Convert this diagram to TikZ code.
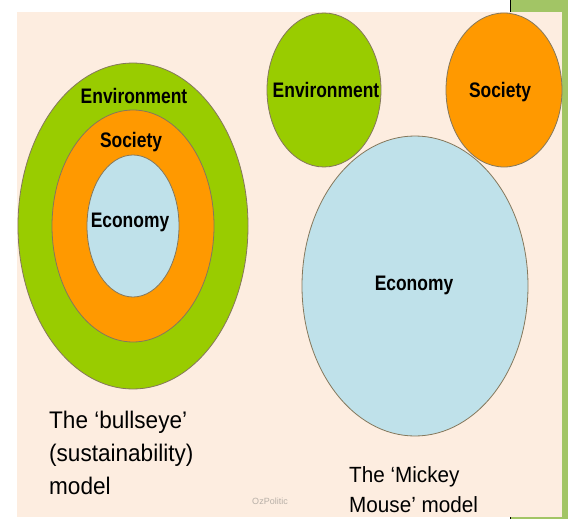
\documentclass[tikz,border=0pt]{standalone}
\usepackage{fontspec}
\setmainfont{Liberation Sans}
\newfontfamily\labelfont{Liberation Sans}[FakeStretch=0.83]
\newfontfamily\capfont{Liberation Sans}[FakeStretch=0.94]

\definecolor{peach}{HTML}{FDEDE0}
\definecolor{stripgreen}{HTML}{A2C565}
\definecolor{envgreen}{HTML}{99CC00}
\definecolor{socorange}{HTML}{FF9900}
\definecolor{ecoblue}{HTML}{BFE1EA}
\definecolor{ringline}{HTML}{85785C}
\definecolor{wmgray}{HTML}{B8B0A8}

\tikzset{
    ring/.style={draw=ringline, line width=0.8pt},
    lbl/.style={font=\labelfont\bfseries\fontsize{21}{23}\selectfont, inner sep=0pt, anchor=base},
    caption/.style={font=\capfont\fontsize{24}{33}\selectfont, align=left, inner sep=0pt, anchor=north west}
}

\begin{document}
\begin{tikzpicture}[x=1pt,y=-1pt]
    \useasboundingbox (0,0) rectangle (568,519);

    % Hintergrund
    \fill[white] (0,0) rectangle (568,519);
    \fill[stripgreen] (511,0) rectangle (568,519);
    \draw[line width=1.5pt] (510.5,0) -- (510.5,519);
    \fill[peach] (17,12) rectangle (562,517);

    % Bullseye-Modell
    \foreach \rx/\ry/\col in {115/163/envgreen, 81/116/socorange, 46/71/ecoblue} {
        \filldraw[ring, fill=\col] (133,226) ellipse [x radius=\rx pt, y radius=\ry pt];
    }
    \node[lbl] (bEnv) at (134,103) {Environment};
    \node[lbl] (bSoc) at (131,147) {Society};
    \node[lbl] (bEco) at (130,227) {Economy};

    % Mickey-Mouse-Modell
    \filldraw[ring, fill=envgreen] (324,90) ellipse [x radius=57pt, y radius=77pt];
    \filldraw[ring, fill=socorange] (504,90) ellipse [x radius=58pt, y radius=77pt];
    \filldraw[ring, fill=ecoblue] (415,286) ellipse [x radius=113pt, y radius=150pt];
    \node[lbl] (mEnv) at (326,97) {Environment};
    \node[lbl] (mSoc) at (500,97) {Society};
    \node[lbl] (mEco) at (414,290) {Economy};

    % Beschriftungen
    \node[caption] (bCap) at (49,411) {The ‘bullseye’\\(sustainability)\\model};
    \node[caption, font=\capfont\fontsize{22}{30}\selectfont] (mCap) at (349,466) {The ‘Mickey\\Mouse’ model};
    \node[font=\fontsize{9}{10}\selectfont, text=wmgray, inner sep=0pt] (wm) at (270,501) {OzPolitic};
\end{tikzpicture}
\end{document}
